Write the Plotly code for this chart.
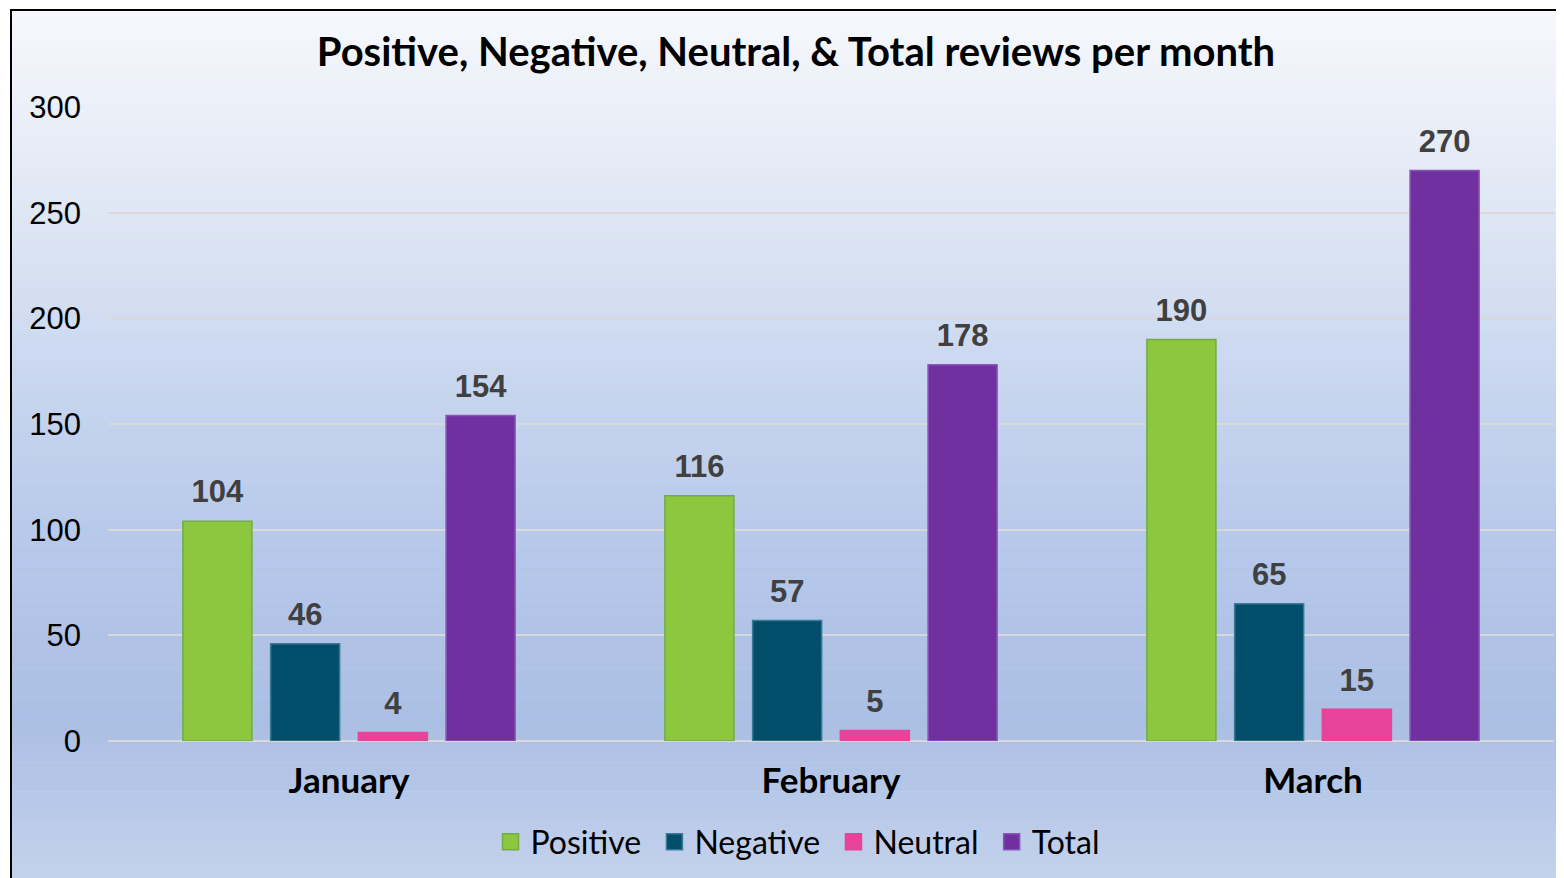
import plotly.graph_objects as go

months = ["January", "February", "March"]
series_names = ["Positive", "Negative", "Neutral", "Total"]
positive = [104, 116, 190]
negative = [46, 57, 65]
neutral = [4, 5, 15]
total = [154, 178, 270]
y_ticks = [0, 50, 100, 150, 200, 250, 300]

values = [positive, negative, neutral, total]
colors = ["#8DC63F", "#034E6A", "#E8439A", "#7030A0"]
lines = ["#70AD47", "#3A7A94", "#E8439A", "#8A55B8"]

OFF = 8  # browser body margin
W, H = 1564 - OFF, 878 - OFF
L, R, T, B = 108 - OFF, 1554 - OFF, 107 - OFF, 741 - OFF


def px_x(px):  # window pixel -> paper x
    return (px - OFF - L) / (R - L)


def px_y(py):  # window pixel -> paper y
    return (B - (py - OFF)) / (B - T)


stops = [(10, (246, 248, 252)), (100, (236, 240, 248)), (250, (218, 227, 243)),
         (400, (198, 212, 238)), (550, (182, 200, 234)), (720, (171, 191, 228)),
         (878, (195, 210, 236))]


def color_at(y):
    for (y0, c0), (y1, c1) in zip(stops[:-1], stops[1:]):
        if y0 <= y <= y1:
            t = (y - y0) / (y1 - y0)
            return "rgb(%d,%d,%d)" % tuple(round(a + (b - a) * t) for a, b in zip(c0, c1))
    return "rgb(%d,%d,%d)" % stops[-1][1]


shapes = []
n = 120
step = (878 - 10) / n
for i in range(n):
    y0 = 10 + i * step
    y1 = y0 + step + 0.6
    shapes.append(dict(type="rect", xref="paper", yref="paper",
                       x0=px_x(11), x1=px_x(1570), y0=px_y(y1), y1=px_y(y0),
                       fillcolor=color_at(y0 + step / 2), line=dict(width=0), layer="below"))
shapes.append(dict(type="line", xref="paper", yref="paper",
                   x0=px_x(11), x1=px_x(11), y0=px_y(880), y1=px_y(9.5),
                   line=dict(color="black", width=2), layer="above"))
shapes.append(dict(type="line", xref="paper", yref="paper",
                   x0=px_x(10), x1=px_x(1570), y0=px_y(10), y1=px_y(10),
                   line=dict(color="black", width=2), layer="above"))

fig = go.Figure()
for i, (name, vals, c, lc) in enumerate(zip(series_names, values, colors, lines)):
    fig.add_trace(go.Bar(
        x=months, y=vals, name=name, showlegend=False,
        offsetgroup="g%d" % i,
        marker=dict(color=c, line=dict(color=lc, width=1.5)),
        hoverinfo="x+y+name",
    ))
for i, (name, vals, c, lc) in enumerate(zip(series_names, values, colors, lines)):
    # value labels
    fig.add_trace(go.Scatter(
        x=months, y=vals, mode="markers+text", showlegend=False,
        offsetgroup="g%d" % i,
        marker=dict(size=16, color="rgba(0,0,0,0)"),
        text=[str(v) for v in vals], textposition="top center",
        textfont=dict(family="Liberation Sans", size=31, color="#404040", weight="bold"),
        cliponaxis=False, hoverinfo="skip",
    ))
    # legend entry
    fig.add_trace(go.Scatter(
        x=[None], y=[None], mode="markers", name=name + "&nbsp;",
        showlegend=True, offsetgroup="g%d" % i,
        marker=dict(size=17, symbol="square", color=c, line=dict(color=lc, width=1.5)),
    ))

fig.update_layout(
    width=W, height=H,
    margin=dict(l=L, r=W - R, t=T, b=H - B),
    paper_bgcolor="white", plot_bgcolor="rgba(0,0,0,0)",
    barmode="group", bargap=0.272, bargroupgap=0.213,
    scattermode="group", scattergap=0.272,
    title=dict(text="<b>Positive, Negative, Neutral, &amp; Total reviews per month</b>",
               x=(796 - OFF) / W, xanchor="center", y=1 - (52 - OFF) / H, yanchor="middle",
               font=dict(family="Lato", size=40, color="black")),
    legend=dict(orientation="h", x=(802 - OFF) / W, xanchor="center", xref="container",
                y=1 - (842 - OFF) / H, yanchor="middle", yref="container",
                font=dict(family="Lato", size=32, color="black"),
                bgcolor="rgba(0,0,0,0)", itemwidth=30, traceorder="normal"),
    shapes=shapes,
    xaxis=dict(showgrid=False, showline=False, ticks="",
               tickfont=dict(family="Lato", size=35, color="black", weight="bold"),
               ticklabelstandoff=16),
    yaxis=dict(range=[0, 300], tickvals=y_ticks, showgrid=True, gridcolor="#D9D9D9",
               gridwidth=2, zeroline=True, zerolinecolor="#D9D9D9", zerolinewidth=2,
               showline=False, ticks="",
               tickfont=dict(family="Liberation Sans", size=31, color="black"),
               ticklabelstandoff=26),
)

fig.write_html("out.html")
